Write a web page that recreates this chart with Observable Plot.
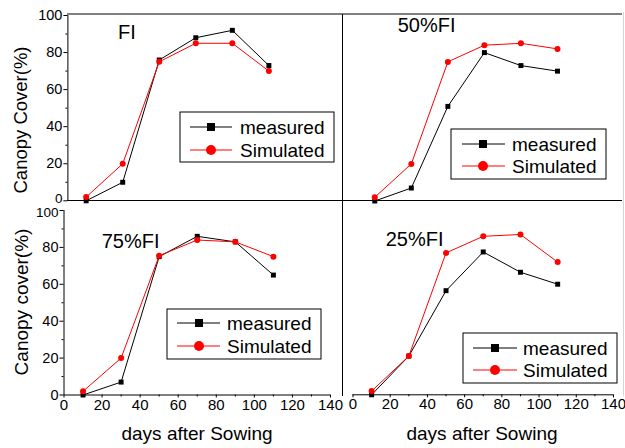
<!DOCTYPE html>
<html><head><meta charset="utf-8">
<script src="https://cdn.jsdelivr.net/npm/d3@7"></script>
<script src="https://cdn.jsdelivr.net/npm/@observablehq/plot@0.6"></script>
<style>
body{margin:0;background:#fff;}
#wrap{position:relative;width:625px;height:448px;overflow:hidden;font-family:"Liberation Sans",Arial,sans-serif;background:#fff;}
#wrap svg{position:absolute;left:0;top:0;}
</style></head><body><div id="wrap"></div>
<script>
// ---- data ----
const days = [10, 30, 50, 70, 90, 110];
const panelLabels = ["FI", "50%FI", "75%FI", "25%FI"];
const measuredFI  = [0, 10, 76, 88, 92, 73];
const simulatedFI = [2, 20, 75, 85, 85, 70];
const measured50  = [0, 7, 51, 80, 73, 70];
const simulated50 = [2, 20, 75, 84, 85, 82];
const measured75  = [0, 7, 75, 86, 83, 65];
const simulated75 = [2, 20, 75.5, 84, 83, 75];
const measured25  = [0, 21, 56.5, 77.5, 66.5, 60];
const simulated25 = [2, 21, 77, 86, 87, 72];
const seriesNames = ["measured", "Simulated"];
const seriesColors = ["#000000", "#ff0000"];
const xTicks = [0, 20, 40, 60, 80, 100, 120, 140];
const xMinor = [10, 30, 50, 70, 90, 110, 130];
const yTicks = [0, 20, 40, 60, 80, 100];
const yMinor = [10, 30, 50, 70, 90];
const yTitles = ["Canopy Cover(%)", "Canopy cover(%)"];
const xTitle = "days after Sowing";

// ---- layout (page pixels) ----
const W = 625, H = 448;
const FONT = '"Liberation Sans", Arial, sans-serif';
const panels = [
  {m: measuredFI, s: simulatedFI, label: panelLabels[0], x0: 67.4, x1: 323.2, y0: 200.3, y1: 15, showX: false, showY: true, edgeTick: 0, edgeDy: -2.5,
   lab: [118, 39], leg: {bx: 180, by: 112, bw: 154, bh: 50, r1: 127, r2: 150, l0: 190, l1: 232, mk: 211, tx: 240}},
  {m: measured50, s: simulated50, label: panelLabels[1], x0: 356, x1: 611.8, y0: 200.5, y1: 15, showX: false, showY: false,
   lab: [397.7, 32], leg: {bx: 451, by: 129, bw: 155, bh: 50, r1: 144, r2: 166, l0: 462, l1: 505, mk: 483, tx: 512}},
  {m: measured75, s: simulated75, label: panelLabels[2], x0: 63.5, x1: 330, y0: 394.5, y1: 210, showX: true, showY: true, edgeTick: 100, edgeDy: 2.5,
   lab: [101.7, 248.3], leg: {bx: 167, by: 309, bw: 154, bh: 50, r1: 323, r2: 346, l0: 177, l1: 220, mk: 199, tx: 227}},
  {m: measured25, s: simulated25, label: panelLabels[3], x0: 352.5, x1: 613, y0: 394.3, y1: 210, showX: true, showY: false,
   lab: [385.7, 245.7], leg: {bx: 463, by: 333, bw: 154, bh: 50, r1: 348, r2: 370, l0: 473, l1: 517, mk: 495, tx: 523}}
];

const wrap = document.getElementById("wrap");

panels.forEach(p => {
  const meas = days.map((d, i) => ({day: d, v: p.m[i]}));
  const sim = days.map((d, i) => ({day: d, v: p.s[i]}));
  const marks = [];
  if (p.showY) {
    marks.push(
      Plot.ruleX([0], {stroke: "#000", strokeWidth: 1}),
      Plot.axisY({ticks: yTicks, tickSize: 4, tickFormat: () => "", label: null}),
      Plot.axisY({ticks: yMinor, tickSize: 2, tickFormat: () => "", label: null}),
      Plot.axisY({ticks: yTicks.filter(t => t !== p.edgeTick), tickSize: 0, tickPadding: 5.5, label: null, fontSize: 14.5}),
      Plot.axisY({ticks: [p.edgeTick], tickSize: 0, tickPadding: 5.5, label: null, fontSize: 13.5, dy: p.edgeDy})
    );
  }
  if (p.showX) {
    marks.push(
      Plot.ruleY([0], {stroke: "#000", strokeWidth: 1}),
      Plot.axisX({ticks: xTicks, tickSize: 3, tickPadding: 1, label: null, fontSize: 15}),
      Plot.axisX({ticks: xMinor, tickSize: 2, tickFormat: () => "", label: null})
    );
  }
  marks.push(
    Plot.line(meas, {x: "day", y: "v", stroke: seriesColors[0], strokeWidth: 1}),
    Plot.dot(meas, {x: "day", y: "v", symbol: "square", r: 2.8, fill: seriesColors[0], stroke: null}),
    Plot.line(sim, {x: "day", y: "v", stroke: seriesColors[1], strokeWidth: 1}),
    Plot.dot(sim, {x: "day", y: "v", symbol: "circle", r: 3, fill: seriesColors[1], stroke: null})
  );
  const chart = Plot.plot({
    width: W, height: H,
    marginLeft: p.x0, marginRight: W - p.x1, marginTop: p.y1, marginBottom: H - p.y0,
    x: {domain: [0, 140], ...(p.showX ? {} : {axis: null})},
    y: {domain: [0, 100], ...(p.showY ? {} : {axis: null})},
    style: {background: "transparent", overflow: "visible", fontFamily: FONT, fontSize: "15px", color: "#000"},
    marks
  });
  wrap.appendChild(chart);
});

// ---- overlay: dividers, panel labels, legends, axis titles ----
const svg = d3.select(wrap).append("svg").attr("width", W).attr("height", H)
  .style("font-family", FONT).style("overflow", "visible");

const line = (x1, y1, x2, y2, c = "#000", w = 1) =>
  svg.append("line").attr("x1", x1).attr("y1", y1).attr("x2", x2).attr("y2", y2)
    .attr("stroke", c).attr("stroke-width", w);

line(67, 14, 622, 14);
line(67, 200.5, 622, 200.5);
line(342.5, 14, 342.5, 396);
line(623.5, 12, 623.5, 396, "#d4d4d4");

panels.forEach(p => {
  svg.append("text").attr("x", p.lab[0]).attr("y", p.lab[1]).attr("font-size", 20).attr("fill", "#000").text(p.label);
  const L = p.leg;
  svg.append("rect").attr("x", L.bx).attr("y", L.by).attr("width", L.bw).attr("height", L.bh)
    .attr("fill", "#fff").attr("stroke", "#000").attr("stroke-width", 1);
  [L.r1, L.r2].forEach((ry, k) => {
    line(L.l0, ry, L.l1, ry, seriesColors[k], 1);
    if (k === 0) {
      svg.append("rect").attr("x", L.mk - 4).attr("y", ry - 4).attr("width", 8).attr("height", 8).attr("fill", seriesColors[k]);
    } else {
      svg.append("circle").attr("cx", L.mk).attr("cy", ry).attr("r", 5).attr("fill", seriesColors[k]);
    }
    svg.append("text").attr("x", L.tx).attr("y", ry).attr("dy", "0.35em").attr("font-size", 19)
      .attr("fill", "#000").text(seriesNames[k]);
  });
});

svg.append("text").attr("transform", "translate(27,120) rotate(-90)").attr("text-anchor", "middle")
  .attr("font-size", 18.5).attr("fill", "#000").text(yTitles[0]);
svg.append("text").attr("transform", "translate(28,302) rotate(-90)").attr("text-anchor", "middle")
  .attr("font-size", 19).attr("fill", "#000").text(yTitles[1]);
svg.append("text").attr("x", 197).attr("y", 440).attr("text-anchor", "middle")
  .attr("font-size", 19).attr("fill", "#000").text(xTitle);
svg.append("text").attr("x", 482).attr("y", 440).attr("text-anchor", "middle")
  .attr("font-size", 19).attr("fill", "#000").text(xTitle);
</script>
</body></html>
